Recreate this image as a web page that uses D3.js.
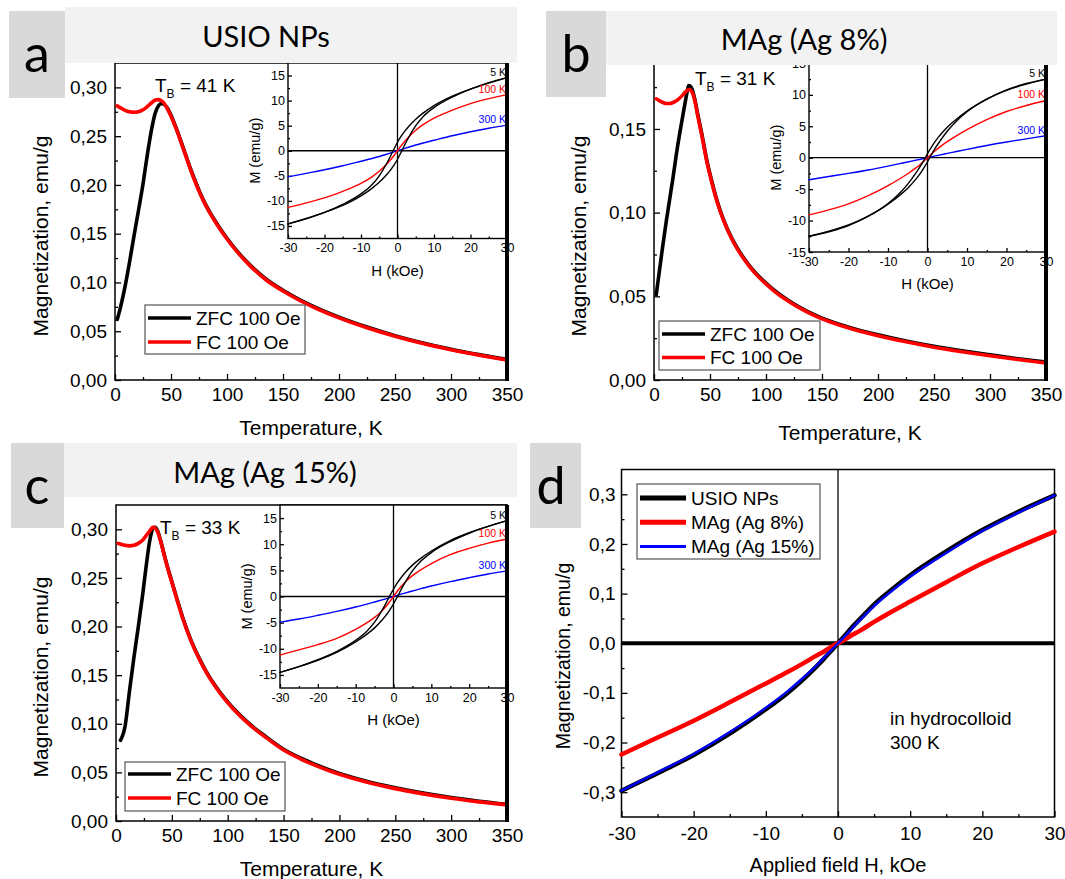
<!DOCTYPE html>
<html>
<head>
<meta charset="utf-8">
<script src="https://cdn.jsdelivr.net/npm/d3@7"></script>
<style>
body { margin: 0; background: #fff; }
svg text { font-family: "Liberation Sans", Arial, sans-serif; fill: #000; }
text.banner { font-family: Lato, "Open Sans", sans-serif; }
</style>
</head>
<body>
<svg id="fig" width="1065" height="879"></svg>
<script>
// ---------- data ----------
// panel a : USIO NPs
const tempA = [2, 5, 9, 13, 17, 21, 25, 29, 33, 36, 39, 41, 44, 47, 50, 55, 61, 68, 76, 84, 91, 100, 110, 120, 135, 150, 165, 180, 200, 225, 250, 275, 300, 325, 350];
const zfcA = [0.062, 0.075, 0.096, 0.121, 0.148, 0.174, 0.201, 0.232, 0.259, 0.274, 0.2815, 0.2835, 0.2825, 0.2785, 0.2715, 0.2573, 0.2378, 0.2148, 0.1918, 0.1733, 0.1603, 0.1453, 0.1308, 0.1186, 0.1033, 0.092, 0.0823, 0.074, 0.0645, 0.0543, 0.0455, 0.038, 0.0316, 0.026, 0.0209];
const fcA = [0.281, 0.279, 0.2765, 0.275, 0.2745, 0.275, 0.277, 0.2805, 0.2845, 0.287, 0.2875, 0.2865, 0.2835, 0.2775, 0.2705, 0.2565, 0.237, 0.214, 0.191, 0.1725, 0.1595, 0.1445, 0.130, 0.1178, 0.1025, 0.0912, 0.0815, 0.0732, 0.0637, 0.0535, 0.0448, 0.0373, 0.031, 0.0255, 0.0205];

// panel b : MAg (Ag 8%)
const tempB = [2, 5, 8, 11, 14, 17, 20, 23, 26, 28, 30, 31, 32, 34, 36, 39, 43, 47, 52, 57, 62, 70, 77, 85, 92, 100, 107, 120, 136, 150, 166, 180, 200, 225, 250, 275, 300, 325, 350];
const zfcB = [0.051, 0.066, 0.081, 0.095, 0.108, 0.121, 0.135, 0.1475, 0.159, 0.1665, 0.1735, 0.176, 0.1758, 0.1738, 0.169, 0.159, 0.146, 0.1318, 0.1177, 0.1056, 0.096, 0.084, 0.076, 0.0685, 0.063, 0.0579, 0.0538, 0.0475, 0.0413, 0.037, 0.0332, 0.0304, 0.027, 0.0233, 0.0201, 0.0174, 0.015, 0.0127, 0.0107];
const fcB = [0.168, 0.1668, 0.1658, 0.1652, 0.1652, 0.1658, 0.1668, 0.1685, 0.1705, 0.172, 0.1732, 0.1735, 0.1735, 0.172, 0.168, 0.158, 0.145, 0.131, 0.117, 0.105, 0.0955, 0.0835, 0.0755, 0.068, 0.0625, 0.0574, 0.0533, 0.047, 0.0408, 0.0365, 0.0327, 0.0299, 0.0265, 0.0228, 0.0196, 0.0169, 0.0145, 0.0122, 0.0102];

// panel c : MAg (Ag 15%)
const zfcTempC = [4, 6, 8, 12, 16, 20, 24, 27, 30, 32, 33, 35, 37, 40, 43, 46, 50, 55, 60, 67, 75, 82, 90, 97, 105, 120, 135, 150, 165, 180, 200, 225, 250, 275, 300, 325, 350];
const zfcC = [0.083, 0.088, 0.0967, 0.133, 0.168, 0.200, 0.234, 0.262, 0.287, 0.298, 0.3015, 0.302, 0.299, 0.2883, 0.2748, 0.2618, 0.2463, 0.2268, 0.2083, 0.1863, 0.1663, 0.1513, 0.1373, 0.1266, 0.1159, 0.0993, 0.086, 0.0738, 0.0648, 0.0573, 0.0488, 0.0406, 0.0341, 0.0287, 0.0242, 0.0204, 0.0172];
const fcTempC = [2, 4, 8, 12, 16, 20, 24, 27, 30, 32, 33, 35, 37, 40, 43, 46, 50, 55, 60, 67, 75, 82, 90, 97, 105, 120, 135, 150, 165, 180, 200, 225, 250, 275, 300, 325, 350];
const fcC = [0.2855, 0.2848, 0.2835, 0.283, 0.2835, 0.2855, 0.289, 0.2935, 0.298, 0.301, 0.302, 0.3012, 0.298, 0.2875, 0.274, 0.261, 0.2455, 0.226, 0.2075, 0.1855, 0.1655, 0.1505, 0.1365, 0.1258, 0.1151, 0.0985, 0.0852, 0.073, 0.064, 0.0565, 0.048, 0.0398, 0.0333, 0.0279, 0.0234, 0.0197, 0.0166];

// hysteresis loops (insets), field in kOe
const loopField = [-30, -25, -20, -15, -10, -7, -5, -3, -2, -1, 0, 1, 2, 3, 5, 7, 10, 15, 20, 25, 30];
const loopA5Kdown = [-14.6, -13.6, -12.3, -10.7, -8.6, -6.8, -5.0, -2.6, -1.2, 0.3, 1.7, 2.9, 3.9, 4.8, 6.3, 7.5, 9.0, 10.9, 12.3, 13.5, 14.6];
const loopA5Kup = [-14.6, -13.5, -12.3, -10.9, -9.0, -7.5, -6.3, -4.8, -3.9, -2.9, -1.7, -0.3, 1.2, 2.6, 5.0, 6.8, 8.6, 10.7, 12.3, 13.6, 14.6];
const loopA100K = [-11.3, -10.4, -9.4, -8.1, -6.5, -5.2, -4.1, -2.7, -1.9, -1.0, 0, 1.0, 1.9, 2.7, 4.1, 5.2, 6.5, 8.1, 9.4, 10.4, 11.2];
const loopA300K = [-5.2, -4.5, -3.8, -3.0, -2.1, -1.55, -1.15, -0.7, -0.47, -0.24, 0, 0.24, 0.47, 0.7, 1.15, 1.55, 2.1, 3.0, 3.8, 4.5, 5.1];

const loopB5Kdown = [-12.5, -11.7, -10.7, -9.3, -7.3, -5.6, -4.2, -2.5, -1.55, -0.5, 0.65, 1.7, 2.65, 3.45, 4.85, 5.95, 7.4, 9.3, 10.8, 11.8, 12.5];
const loopB5Kup = [-12.5, -11.8, -10.8, -9.3, -7.4, -5.95, -4.85, -3.45, -2.65, -1.7, -0.65, 0.5, 1.55, 2.5, 4.2, 5.6, 7.3, 9.3, 10.7, 11.7, 12.5];
const loopB100K = [-9.1, -8.3, -7.35, -6.05, -4.45, -3.35, -2.55, -1.65, -1.15, -0.6, 0, 0.6, 1.15, 1.65, 2.55, 3.35, 4.45, 6.05, 7.35, 8.3, 9.1];
const loopB300K = [-3.5, -3.0, -2.5, -1.95, -1.33, -0.94, -0.68, -0.41, -0.28, -0.14, 0, 0.14, 0.28, 0.41, 0.68, 0.94, 1.33, 1.95, 2.5, 3.0, 3.5];

const loopC5Kdown = [-14.5, -13.4, -12.1, -10.5, -8.4, -6.6, -4.9, -2.6, -1.3, 0.1, 1.4, 2.6, 3.6, 4.5, 6.0, 7.2, 8.7, 10.7, 12.2, 13.4, 14.5];
const loopC5Kup = [-14.5, -13.4, -12.2, -10.7, -8.7, -7.2, -6.0, -4.5, -3.6, -2.6, -1.4, -0.1, 1.3, 2.6, 4.9, 6.6, 8.4, 10.5, 12.1, 13.4, 14.5];
const loopC100K = [-11.2, -10.2, -9.2, -8.0, -6.3, -5.0, -4.0, -2.7, -1.9, -1.0, 0, 1.0, 1.9, 2.7, 4.0, 5.0, 6.3, 8.0, 9.2, 10.2, 11.0];
const loopC300K = [-4.9, -4.3, -3.6, -2.85, -2.0, -1.45, -1.05, -0.65, -0.44, -0.22, 0, 0.22, 0.44, 0.65, 1.05, 1.45, 2.0, 2.85, 3.6, 4.3, 4.9];

// panel d : 300 K in hydrocolloid
const fieldD = [-30, -25, -20, -15, -10, -7, -5, -3, -2, -1, 0, 1, 2, 3, 5, 7, 10, 15, 20, 25, 30];
const usioD = [-0.297, -0.262, -0.225, -0.182, -0.133, -0.100, -0.075, -0.047, -0.032, -0.016, 0, 0.016, 0.033, 0.048, 0.078, 0.103, 0.137, 0.185, 0.228, 0.265, 0.298];
const ag8D = [-0.224, -0.19, -0.156, -0.119, -0.081, -0.058, -0.042, -0.025, -0.017, -0.008, 0, 0.008, 0.017, 0.025, 0.043, 0.06, 0.084, 0.123, 0.161, 0.194, 0.225];
const ag15D = [-0.297, -0.26, -0.223, -0.179, -0.13, -0.097, -0.072, -0.045, -0.030, -0.015, 0, 0.015, 0.031, 0.046, 0.075, 0.1, 0.134, 0.182, 0.226, 0.263, 0.298];

const tempTicks = [0, 50, 100, 150, 200, 250, 300, 350];
const tempMinor = [25, 75, 125, 175, 225, 275, 325];
const loopTicks = [-30, -20, -10, 0, 10, 20, 30];
const loopMinor = [-25, -15, -5, 5, 15, 25];
const loopYTicks = [-15, -10, -5, 0, 5, 10, 15];
const loopYMinor = [-12.5, -7.5, -2.5, 2.5, 7.5, 12.5];
const dYTicks = [-0.3, -0.2, -0.1, 0, 0.1, 0.2, 0.3];
const dYMinor = [-0.25, -0.15, -0.05, 0.05, 0.15, 0.25];
const tempLegend = ["ZFC 100 Oe", "FC 100 Oe"];
const dLegend = ["USIO NPs", "MAg (Ag 8%)", "MAg (Ag 15%)"];

// ---------- helpers ----------
const svg = d3.select("#fig");
const loc = d3.formatLocale({decimal: ",", thousands: " ", grouping: [3], currency: ["", ""], minus: "-"});
const f2 = loc.format(".2f"), f1 = loc.format(".1f"), fi = loc.format("d");

function styleAxis(sel, fs) {
	sel.attr("font-family", null).attr("font-size", null);
	sel.select(".domain").remove();
	sel.selectAll("line").attr("stroke", "#000").attr("stroke-width", 1.3);
	sel.selectAll("text").attr("font-size", fs);
}

function axes(g, x, y, o) {
	const yb = y.range()[0], xl = x.range()[0];
	let s = g.append("g").attr("transform", `translate(0,${yb})`)
		.call(d3.axisBottom(x).tickValues(o.xt).tickFormat(o.xf).tickSizeInner(-o.tk).tickSizeOuter(0).tickPadding(o.px));
	styleAxis(s, o.fs);
	s = g.append("g").attr("transform", `translate(0,${yb})`)
		.call(d3.axisBottom(x).tickValues(o.xm).tickFormat(() => "").tickSizeInner(-o.tk / 2).tickSizeOuter(0));
	styleAxis(s, o.fs);
	s = g.append("g").attr("transform", `translate(${xl},0)`)
		.call(d3.axisLeft(y).tickValues(o.yt).tickFormat(o.yf).tickSizeInner(-o.tk).tickSizeOuter(0).tickPadding(o.py));
	styleAxis(s, o.fs);
	s = g.append("g").attr("transform", `translate(${xl},0)`)
		.call(d3.axisLeft(y).tickValues(o.ym).tickFormat(() => "").tickSizeInner(-o.tk / 2).tickSizeOuter(0));
	styleAxis(s, o.fs);
}

function curve(g, x, y, xs, ys, color, w) {
	g.append("path")
		.datum(d3.zip(xs, ys))
		.attr("fill", "none").attr("stroke", color).attr("stroke-width", w)
		.attr("stroke-linejoin", "round").attr("stroke-linecap", "round")
		.attr("d", d3.line().x(d => x(d[0])).y(d => y(d[1])).curve(d3.curveMonotoneX));
}

function rotLabel(g, x, y, txt, fs) {
	g.append("text").attr("transform", `translate(${x},${y}) rotate(-90)`)
		.attr("text-anchor", "middle").attr("dominant-baseline", "central")
		.attr("font-size", fs).text(txt);
}

function legend(g, L, names, colors, widths) {
	g.append("rect").attr("x", L.x).attr("y", L.y).attr("width", L.w).attr("height", L.h)
		.attr("fill", "#fff").attr("stroke", "#555").attr("stroke-width", 1.2);
	names.forEach((n, i) => {
		const yy = L.ly + i * L.step;
		g.append("line").attr("x1", L.x + 3).attr("x2", L.x + L.lw).attr("y1", yy).attr("y2", yy)
			.attr("stroke", colors[i]).attr("stroke-width", widths[i]);
		g.append("text").attr("x", L.x + L.lw + 5).attr("y", yy).attr("dy", "0.36em")
			.attr("font-size", L.fs).text(n);
	});
}

// main ZFC/FC panel with its hysteresis inset
function tempPanel(P) {
	const g = svg.append("g");
	const x = d3.scaleLinear().domain([0, 350]).range([P.left, P.right]);
	const y = d3.scaleLinear().domain([0, P.ymax]).range([P.bottom, P.top]);
	g.append("rect").attr("x", P.left).attr("y", P.top).attr("width", P.right - P.left).attr("height", P.bottom - P.top)
		.attr("fill", "#fff").attr("stroke", "#000").attr("stroke-width", 1.5);
	axes(g, x, y, {xt: tempTicks, xm: tempMinor, yt: P.yt, ym: P.ym, xf: fi, yf: f2, tk: 6, px: 8, py: 8, fs: 19});

	curve(g, x, y, P.zfcT, P.zfc, "#000", 3.6);
	curve(g, x, y, P.fcT, P.fc, "#f00", 3.6);

	// T_B label
	const tb = g.append("text").attr("x", P.tb[0]).attr("y", P.tb[1]).attr("font-size", 19);
	tb.append("tspan").text("T");
	tb.append("tspan").attr("font-size", 12).attr("dy", 6).text("B");
	tb.append("tspan").attr("dy", -6).text(" = " + P.tbText);

	legend(g, P.leg, tempLegend, ["#000", "#f00"], [3.6, 3.6]);

	// inset
	const I = P.inset;
	const xi = d3.scaleLinear().domain([-30, 30]).range([I.left, I.right]);
	const yi = d3.scaleLinear().domain([-I.ymax, I.ymax]).range([I.bottom, I.top]);
	g.append("rect").attr("x", I.left).attr("y", I.top).attr("width", I.right - I.left).attr("height", I.bottom - I.top)
		.attr("fill", "#fff").attr("stroke", "#000").attr("stroke-width", 1.4);
	axes(g, xi, yi, {xt: loopTicks, xm: loopMinor, yt: loopYTicks, ym: loopYMinor, xf: fi, yf: fi, tk: 4, px: 5, py: 3, fs: 12.5});
	g.append("line").attr("x1", xi(0)).attr("x2", xi(0)).attr("y1", I.top).attr("y2", I.bottom).attr("stroke", "#000").attr("stroke-width", 1.3);
	g.append("line").attr("x1", I.left).attr("x2", I.right).attr("y1", yi(0)).attr("y2", yi(0)).attr("stroke", "#000").attr("stroke-width", 1.3);
	curve(g, xi, yi, loopField, P.loops[3], "#00f", 1.4);
	curve(g, xi, yi, loopField, P.loops[2], "#f00", 1.4);
	curve(g, xi, yi, loopField, P.loops[0], "#000", 1.4);
	curve(g, xi, yi, loopField, P.loops[1], "#000", 1.4);
	const tl = [["5 K", P.loops[0], "#000"], ["100 K", P.loops[2], "#f00"], ["300 K", P.loops[3], "#00f"]];
	tl.forEach(t => {
		g.append("text").attr("x", I.right - 1).attr("y", yi(t[1][t[1].length - 1]) - 2)
			.attr("text-anchor", "end").attr("font-size", 10.5).style("fill", t[2]).text(t[0]);
	});
	rotLabel(g, I.left - 33, (I.top + I.bottom) / 2, "M (emu/g)", 14.5);
	g.append("text").attr("x", xi(0)).attr("y", I.bottom + 37).attr("text-anchor", "middle").attr("font-size", 15).text("H (kOe)");

	// thick right axis
	g.append("line").attr("x1", P.right).attr("x2", P.right).attr("y1", P.top).attr("y2", P.bottom + 1)
		.attr("stroke", "#000").attr("stroke-width", 4);

	rotLabel(g, P.ylab[0], P.ylab[1], "Magnetization, emu/g", 21);
	g.append("text").attr("x", (P.left + P.right) / 2).attr("y", P.xlabY).attr("text-anchor", "middle")
		.attr("font-size", 21).text("Temperature, K");
}

// ---------- panels ----------
tempPanel({
	left: 115, right: 507, top: 63, bottom: 380, ymax: 0.325,
	yt: [0, 0.05, 0.1, 0.15, 0.2, 0.25, 0.3], ym: [0.025, 0.075, 0.125, 0.175, 0.225, 0.275],
	zfcT: tempA, zfc: zfcA, fcT: tempA, fc: fcA,
	tb: [155, 92], tbText: "41 K",
	leg: {x: 145, y: 305, w: 160, h: 49, ly: 318, step: 24, lw: 46, fs: 19},
	inset: {left: 288, right: 507, top: 63, bottom: 238.5, ymax: 17.5},
	loops: [loopA5Kdown, loopA5Kup, loopA100K, loopA300K],
	ylab: [40, 236], xlabY: 435
});
tempPanel({
	left: 654, right: 1046, top: 62, bottom: 380, ymax: 0.19,
	yt: [0, 0.05, 0.1, 0.15], ym: [0.025, 0.075, 0.125, 0.175],
	zfcT: tempB, zfc: zfcB, fcT: tempB, fc: fcB,
	tb: [695, 85], tbText: "31 K",
	leg: {x: 659, y: 321, w: 161, h: 49, ly: 334, step: 23.5, lw: 46, fs: 19},
	inset: {left: 809, right: 1046, top: 63.4, bottom: 252, ymax: 15},
	loops: [loopB5Kdown, loopB5Kup, loopB100K, loopB300K],
	ylab: [578, 236], xlabY: 440
});
tempPanel({
	left: 116, right: 507, top: 505, bottom: 821, ymax: 0.325,
	yt: [0, 0.05, 0.1, 0.15, 0.2, 0.25, 0.3], ym: [0.025, 0.075, 0.125, 0.175, 0.225, 0.275],
	zfcT: zfcTempC, zfc: zfcC, fcT: fcTempC, fc: fcC,
	tb: [160, 534], tbText: "33 K",
	leg: {x: 125, y: 762, w: 160, h: 49, ly: 774, step: 24, lw: 46, fs: 19},
	inset: {left: 280, right: 507, top: 505, bottom: 688, ymax: 17.5},
	loops: [loopC5Kdown, loopC5Kup, loopC100K, loopC300K],
	ylab: [40, 677], xlabY: 876
});

// panel d
(function () {
	const P = {left: 621.5, right: 1054.5, top: 469.5, bottom: 817};
	const g = svg.append("g");
	const x = d3.scaleLinear().domain([-30, 30]).range([P.left, P.right]);
	const y = d3.scaleLinear().domain([-0.35, 0.35]).range([P.bottom, P.top]);
	g.append("rect").attr("x", P.left).attr("y", P.top).attr("width", P.right - P.left).attr("height", P.bottom - P.top)
		.attr("fill", "#fff").attr("stroke", "#000").attr("stroke-width", 1.5);
	axes(g, x, y, {xt: loopTicks, xm: loopMinor, yt: dYTicks, ym: dYMinor, xf: fi, yf: f1, tk: 6, px: 10, py: 6, fs: 19});
	g.append("line").attr("x1", x(0)).attr("x2", x(0)).attr("y1", P.top).attr("y2", P.bottom).attr("stroke", "#000").attr("stroke-width", 1.3);
	g.append("line").attr("x1", P.left).attr("x2", P.right).attr("y1", y(0)).attr("y2", y(0)).attr("stroke", "#000").attr("stroke-width", 4);
	curve(g, x, y, fieldD, usioD, "#000", 4.5);
	curve(g, x, y, fieldD, ag8D, "#f00", 4.5);
	curve(g, x, y, fieldD, ag15D, "#00f", 2.4);
	legend(g, {x: 637, y: 484, w: 183, h: 75, ly: 498, step: 24.2, lw: 49, fs: 19}, dLegend, ["#000", "#f00", "#00f"], [5, 5, 3]);
	g.append("text").attr("x", 890).attr("y", 725).attr("font-size", 19).text("in hydrocolloid");
	g.append("text").attr("x", 890).attr("y", 749).attr("font-size", 19).text("300 K");
	rotLabel(g, 563, 656, "Magnetization, emu/g", 19.5);
	g.append("text").attr("x", (P.left + P.right) / 2).attr("y", 872).attr("text-anchor", "middle")
		.attr("font-size", 20).text("Applied field H, kOe");
})();

// ---------- banners and panel letters (drawn last, they cover the plots) ----------
const banners = [
	{box: [9, 11, 56, 87], bar: [65, 7, 452, 56], letter: "a", lx: 37, ly: 72, title: "USIO NPs", tx: 266, ty: 47},
	{box: [546, 11, 60, 86], bar: [606, 11, 451, 54], letter: "b", lx: 576, ly: 72, title: "MAg (Ag 8%)", tx: 804, ty: 50},
	{box: [11, 443, 53, 85], bar: [64, 443, 453, 54], letter: "c", lx: 37, ly: 504, title: "MAg (Ag 15%)", tx: 265, ty: 483},
	{box: [530, 443, 51, 85], bar: null, letter: "d", lx: 551, ly: 504, title: null}
];
banners.forEach(b => {
	if (b.bar) {
		svg.append("rect").attr("x", b.bar[0]).attr("y", b.bar[1]).attr("width", b.bar[2]).attr("height", b.bar[3]).attr("fill", "#f2f2f2");
		svg.append("text").attr("class", "banner").attr("x", b.tx).attr("y", b.ty).attr("text-anchor", "middle")
			.attr("font-size", 29).text(b.title);
	}
	svg.append("rect").attr("x", b.box[0]).attr("y", b.box[1]).attr("width", b.box[2]).attr("height", b.box[3]).attr("fill", "#d9d9d9");
	svg.append("text").attr("class", "banner").attr("x", b.lx).attr("y", b.ly).attr("text-anchor", "middle")
		.attr("font-size", 52).text(b.letter);
});
</script>
</body>
</html>
